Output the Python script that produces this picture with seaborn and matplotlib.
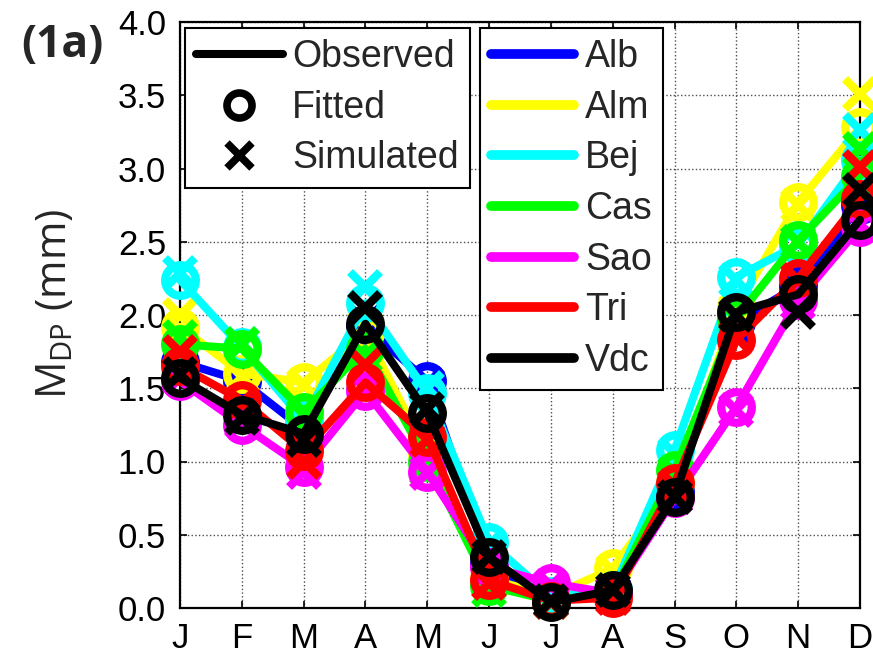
import matplotlib
matplotlib.use("Agg")
import matplotlib.pyplot as plt
from matplotlib.lines import Line2D
import seaborn as sns

# ---- data ----
month_labels = ["J", "F", "M", "A", "M", "J", "J", "A", "S", "O", "N", "D"]
months = list(range(1, 13))
stations = ["Alb", "Alm", "Bej", "Cas", "Sao", "Tri", "Vdc"]
colors = ["#0000ff", "#ffff00", "#00ffff", "#00ff00", "#ff00ff", "#ff0000", "#000000"]

alb_obs = [1.68, 1.55, 1.22, 1.92, 1.55, 0.30, 0.05, 0.10, 0.80, 1.95, 2.20, 2.75]
alb_fit = [1.68, 1.55, 1.22, 1.92, 1.55, 0.30, 0.05, 0.10, 0.80, 1.95, 2.20, 2.75]
alb_sim = [1.70, 1.52, 1.20, 1.95, 1.53, 0.28, 0.05, 0.10, 0.82, 1.92, 2.18, 2.78]

alm_obs = [1.92, 1.60, 1.54, 1.88, 1.05, 0.20, 0.08, 0.27, 0.85, 2.05, 2.77, 3.28]
alm_fit = [1.92, 1.60, 1.54, 1.88, 1.05, 0.20, 0.08, 0.27, 0.85, 2.05, 2.77, 3.28]
alm_sim = [2.00, 1.58, 1.52, 1.92, 0.95, 0.18, 0.07, 0.25, 0.85, 2.03, 2.75, 3.51]

bej_obs = [2.24, 1.78, 1.28, 2.08, 1.47, 0.45, 0.08, 0.12, 1.08, 2.26, 2.48, 3.06]
bej_fit = [2.24, 1.78, 1.28, 2.08, 1.47, 0.45, 0.08, 0.12, 1.08, 2.26, 2.48, 3.06]
bej_sim = [2.29, 1.80, 1.25, 2.19, 1.50, 0.43, 0.08, 0.12, 1.05, 2.24, 2.50, 3.26]

cas_obs = [1.80, 1.77, 1.34, 1.77, 1.00, 0.15, 0.05, 0.10, 0.94, 1.98, 2.51, 2.95]
cas_fit = [1.80, 1.77, 1.34, 1.77, 1.00, 0.15, 0.05, 0.10, 0.94, 1.98, 2.51, 2.95]
cas_sim = [1.85, 1.80, 1.32, 1.72, 0.95, 0.12, 0.04, 0.10, 0.92, 1.98, 2.50, 3.13]

sao_obs = [1.55, 1.25, 0.96, 1.48, 0.93, 0.28, 0.17, 0.10, 0.75, 1.37, 2.10, 2.60]
sao_fit = [1.55, 1.25, 0.96, 1.48, 0.93, 0.28, 0.17, 0.10, 0.75, 1.37, 2.10, 2.60]
sao_sim = [1.57, 1.27, 0.93, 1.50, 0.92, 0.30, 0.15, 0.10, 0.76, 1.35, 2.08, 2.62]

tri_obs = [1.65, 1.42, 1.07, 1.54, 1.17, 0.19, 0.05, 0.07, 0.85, 1.83, 2.25, 2.79]
tri_fit = [1.65, 1.42, 1.07, 1.54, 1.17, 0.19, 0.05, 0.07, 0.85, 1.83, 2.25, 2.79]
tri_sim = [1.75, 1.40, 1.00, 1.66, 1.15, 0.17, 0.04, 0.07, 0.83, 1.85, 2.24, 3.01]

vdc_obs = [1.57, 1.32, 1.19, 1.94, 1.33, 0.35, 0.04, 0.12, 0.76, 2.02, 2.14, 2.65]
vdc_fit = [1.57, 1.32, 1.19, 1.94, 1.33, 0.35, 0.04, 0.12, 0.76, 2.02, 2.14, 2.65]
vdc_sim = [1.60, 1.30, 1.15, 2.05, 1.36, 0.35, 0.05, 0.12, 0.76, 2.00, 2.02, 2.85]

observed = [alb_obs, alm_obs, bej_obs, cas_obs, sao_obs, tri_obs, vdc_obs]
fitted = [alb_fit, alm_fit, bej_fit, cas_fit, sao_fit, tri_fit, vdc_fit]
simulated = [alb_sim, alm_sim, bej_sim, cas_sim, sao_sim, tri_sim, vdc_sim]

yticks = [0.0, 0.5, 1.0, 1.5, 2.0, 2.5, 3.0, 3.5, 4.0]

# ---- style ----
sns.set_style("ticks")
plt.rcParams["font.family"] = ["Liberation Sans", "DejaVu Sans"]

W, H = 873, 658
fig = plt.figure(figsize=(W / 100, H / 100), dpi=100)
ax = fig.add_axes([180 / W, 1 - 608 / H, 680 / W, 586 / H])

LW = 5.8
MS = 22
MEW = 6

for name, c, obs, fit, sim in zip(stations, colors, observed, fitted, simulated):
    sns.lineplot(x=months, y=obs, color=c, linewidth=LW, ax=ax, legend=False,
                 clip_on=False, zorder=3)
    sns.lineplot(x=months, y=fit, color=c, linestyle="none", marker="o",
                 markersize=MS, markeredgewidth=MEW, markerfacecolor="none",
                 markeredgecolor=c, ax=ax, legend=False, clip_on=False, zorder=3)
    sns.lineplot(x=months, y=sim, color=c, linestyle="none", marker="x",
                 markersize=MS, markeredgewidth=MEW, markeredgecolor=c,
                 ax=ax, legend=False, clip_on=False, zorder=3)

ax.set_xlim(1, 12)
ax.set_ylim(0, 4)
ax.set_xticks(months)
ax.set_xticklabels(month_labels)
ax.set_yticks(yticks)
ax.set_yticklabels([f"{v:.1f}" for v in yticks])
ax.set_xlabel("")
ax.set_ylabel("")
ax.tick_params(direction="in", top=True, right=True, length=5, width=1.2,
               labelsize=25, pad=10, colors="black")
ax.grid(True, linestyle=":", color="0.3", linewidth=1.0)
for sp in ax.spines.values():
    sp.set_visible(True)
    sp.set_linewidth(1.6)
    sp.set_color("black")

# legends
h1 = [
    Line2D([], [], color="k", linewidth=LW),
    Line2D([], [], color="k", linestyle="none", marker="o", markersize=18,
           markeredgewidth=5.5, markerfacecolor="none"),
    Line2D([], [], color="k", linestyle="none", marker="x", markersize=18,
           markeredgewidth=5.5),
]
leg1 = fig.legend(h1, ["Observed", "Fitted", "Simulated"], loc="upper left",
                  bbox_to_anchor=(185 / W, 1 - 28 / H), bbox_transform=fig.transFigure,
                  fontsize=27, frameon=True, fancybox=False, framealpha=1,
                  edgecolor="black", borderpad=0.3, labelspacing=0.39,
                  handlelength=2.3, handletextpad=0.25, borderaxespad=0)
leg1.get_frame().set_linewidth(1.5)

h2 = [Line2D([], [], color=c, linewidth=7) for c in colors]
leg2 = fig.legend(h2, stations, loc="upper left",
                  bbox_to_anchor=(480 / W, 1 - 28 / H), bbox_transform=fig.transFigure,
                  fontsize=27, frameon=True, fancybox=False, framealpha=1,
                  edgecolor="black", borderpad=0.3, labelspacing=0.39,
                  handlelength=2.2, handletextpad=0.3, borderaxespad=0)
leg2.get_frame().set_linewidth(1.5)

fig.text(55 / W, 1 - 304 / H, "M$_\\mathregular{DP}$ (mm)", rotation=90,
         ha="center", va="center", fontsize=30, family=["Open Sans", "DejaVu Sans"])
fig.text(62 / W, 1 - 46 / H, "(1a)", ha="center", va="center", fontsize=32,
         fontweight="bold", family=["Open Sans", "DejaVu Sans"])

fig.savefig("out.png", dpi=100)
